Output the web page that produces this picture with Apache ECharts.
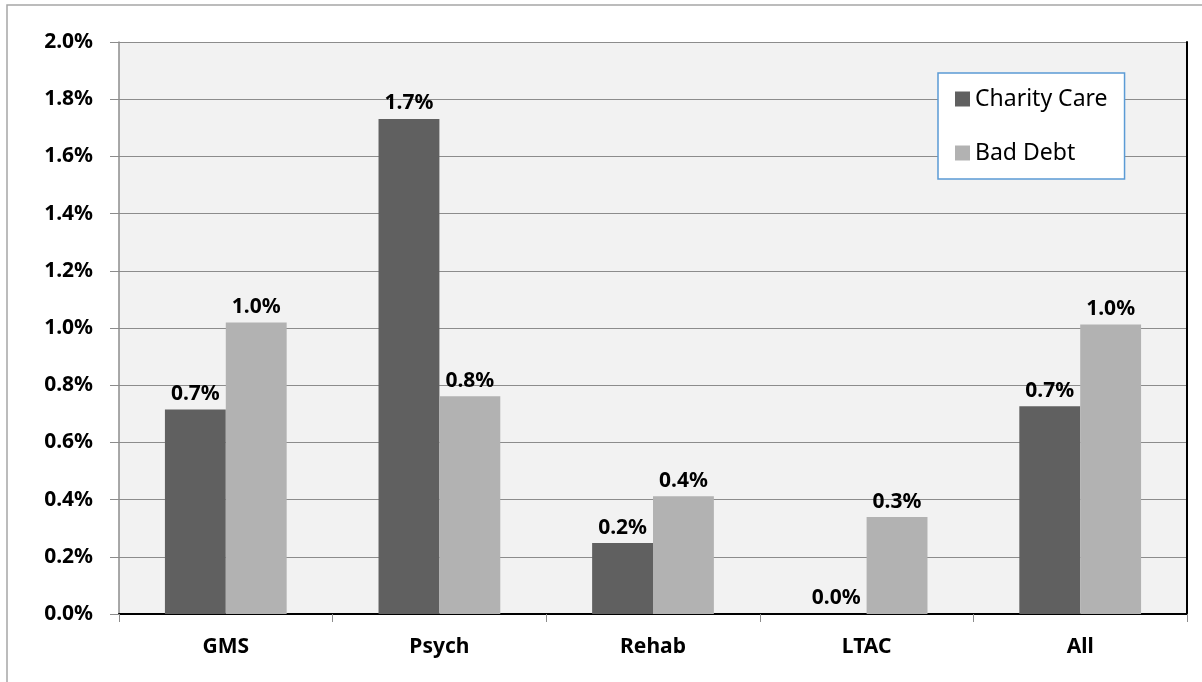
<!DOCTYPE html>
<html>
<head>
<meta charset="utf-8">
<script src="https://cdn.jsdelivr.net/npm/echarts@6/dist/echarts.min.js"></script>
<style>html,body{margin:0;padding:0;background:#fff}#c{width:1202px;height:682px}</style>
</head>
<body>
<div id="c"></div>
<script>
const categories = ['GMS', 'Psych', 'Rehab', 'LTAC', 'All'];
const charityCare = [0.715, 1.731, 0.248, 0.0, 0.726];
const badDebt = [1.019, 0.761, 0.412, 0.339, 1.012];
const yTicks = { min: 0, max: 2.0, interval: 0.2 };

const FONT = '"Noto Sans", "DejaVu Sans", sans-serif';
const chart = echarts.init(document.getElementById('c'));
const lbl = {
  show: true, position: 'top', distance: 5,
  formatter: p => p.value.toFixed(1) + '%',
  fontFamily: FONT, fontWeight: 'bold', fontSize: 21, color: '#000'
};
chart.setOption({
  backgroundColor: '#fff',
  animation: false,
  graphic: [{
    type: 'rect', silent: true, z: -10,
    shape: { x: 7, y: 5, width: 1400, height: 1000 },
    style: { fill: 'none', stroke: '#a6a6a6', lineWidth: 1.5 }
  }],
  grid: { left: 119, right: 15, top: 42, bottom: 68, show: true, backgroundColor: '#f2f2f2', borderWidth: 0 },
  legend: {
    orient: 'vertical', left: 938, top: 73,
    backgroundColor: '#fff', borderColor: '#5b9bd5', borderWidth: 1.5, borderRadius: 0,
    padding: [12, 17, 12, 17], itemGap: 26, itemWidth: 15, itemHeight: 15,
    icon: 'rect',
    textStyle: { fontFamily: FONT, fontSize: 23, color: '#000', lineHeight: 28 },
    data: ['Charity Care', 'Bad Debt']
  },
  xAxis: [{
    type: 'category', data: categories, position: 'bottom',
    axisLine: { show: true, lineStyle: { color: '#8c8c8c', width: 1.5 } },
    axisTick: { show: true, length: 8, lineStyle: { color: '#8c8c8c' } },
    axisLabel: { margin: 23, fontFamily: FONT, fontWeight: 'bold', fontSize: 21, color: '#000' }
  }, {
    type: 'category', data: categories, position: 'top',
    axisLine: { show: true, lineStyle: { color: '#000', width: 2 } },
    axisTick: { show: false }, axisLabel: { show: false }
  }],
  yAxis: [{
    type: 'value', min: yTicks.min, max: yTicks.max, interval: yTicks.interval,
    axisLine: { show: true, lineStyle: { color: '#8c8c8c', width: 1.5 } },
    axisTick: { show: true, length: 9, lineStyle: { color: '#8c8c8c' } },
    splitLine: { show: true, lineStyle: { color: '#8c8c8c', width: 1 } },
    axisLabel: { margin: 26, formatter: v => v.toFixed(1) + '%', fontFamily: FONT, fontWeight: 'bold', fontSize: 21, color: '#000' }
  }, {
    type: 'value', min: yTicks.min, max: yTicks.max, interval: yTicks.interval, position: 'right',
    axisLine: { show: true, lineStyle: { color: '#000', width: 2 } },
    axisTick: { show: false }, axisLabel: { show: false }, splitLine: { show: false }
  }],
  series: [{
    name: 'Charity Care', type: 'bar', data: charityCare,
    barGap: '0%', barCategoryGap: '43%',
    itemStyle: { color: '#606060' }, label: lbl
  }, {
    name: 'Bad Debt', type: 'bar', data: badDebt,
    barGap: '0%', barCategoryGap: '43%',
    itemStyle: { color: '#b2b2b2' }, label: lbl
  }]
});
</script>
</body>
</html>
